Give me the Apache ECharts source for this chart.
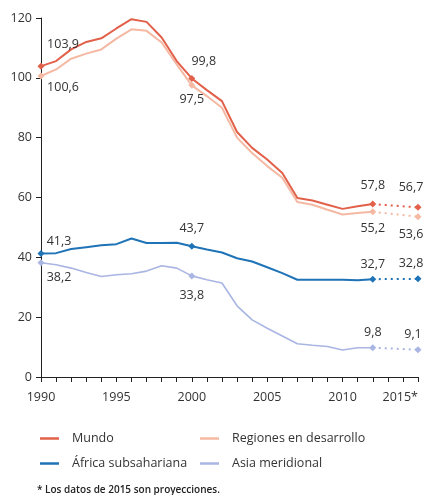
<!DOCTYPE html>
<html>
<head>
<meta charset="utf-8">
<script src="https://cdn.jsdelivr.net/npm/echarts@6/dist/echarts.min.js"></script>
<style>
  html, body { margin: 0; padding: 0; background: #fff; }
  #chart { width: 423px; height: 495px; }
</style>
</head>
<body>
<div id="chart"></div>
<script>
// años 1990-2012 (datos), 2015 proyección
var years = [1990,1991,1992,1993,1994,1995,1996,1997,1998,1999,2000,2001,2002,2003,2004,2005,2006,2007,2008,2009,2010,2011,2012];
var mundo = [103.9,105.6,109.5,112,113.2,116.5,119.6,118.7,113.5,105.6,99.8,95.9,92.2,81.9,76.6,72.7,68.2,59.8,59.0,57.6,56.2,57.1,57.8];
var regiones = [100.6,102.8,106.4,108.1,109.5,113.1,116.2,115.7,111.8,104.5,97.5,93.9,90,80,74.9,70.5,66.6,58.5,57.6,55.9,54.3,54.8,55.2];
var africa = [41.3,41.4,42.8,43.4,44,44.4,46.3,44.8,44.8,44.9,43.7,42.6,41.6,39.7,38.6,36.7,34.7,32.5,32.5,32.5,32.5,32.3,32.7];
var asia = [38.2,37.5,36.4,34.9,33.6,34.2,34.5,35.4,37.2,36.4,33.8,32.5,31.4,23.8,19.1,16.3,13.7,11.1,10.6,10.2,9.0,9.8,9.8];
// proyecciones 2015
var proyeccion = {mundo: 56.7, regiones: 53.6, africa: 32.8, asia: 9.1};
var etiquetados = [1990, 2000, 2012];

var names = ['Mundo', 'Regiones en desarrollo', 'África subsahariana', 'Asia meridional'];
var colors = ['#e2604a', '#f5b9a3', '#1f73b7', '#a9b5e2'];

// desplazamiento de etiquetas [1990, 2000, 2012, 2015]
var offsets = [
  [[22,-22],[12,-17],[0,-19],[-7,-20]],
  [[22,11],[0,14],[0,17],[-7,18]],
  [[18,-12],[0,-18],[0,-15],[-7,-15]],
  [[18,15],[0,20],[0,-15],[-5,-15]]
];

function fmt(v){ return String(v).replace('.', ','); }

function buildSerie(idx, vals, proj) {
  var c = colors[idx];
  var data = years.map(function (y, i) {
    var k = etiquetados.indexOf(y);
    var p = [y, vals[i]];
    if (k < 0) return {value: p, symbol: 'none'};
    return {
      value: p, symbol: 'diamond', symbolSize: 7,
      label: {show: true, offset: offsets[idx][k]}
    };
  });
  var main = {
    name: names[idx], type: 'line', data: data, z: 10 - idx,
    lineStyle: {color: c, width: idx == 3 ? 1.6 : 2},
    itemStyle: {color: c},
    label: {show: false, position: 'inside', color: '#333', fontSize: 12.5, fontFamily: 'Open Sans',
      formatter: function (p) { return fmt(p.value[1]); }},
    emphasis: {disabled: true}, animation: false
  };
  var dashed = {
    name: names[idx] + ' proy', type: 'line', z: 10 - idx,
    data: [
      {value: [2012, vals[vals.length - 1]], symbol: 'none'},
      {value: [2015, proj], symbol: 'diamond', symbolSize: 7,
        label: {show: true, offset: offsets[idx][3]}}
    ],
    lineStyle: {color: c, width: 2, type: [2, 4]},
    itemStyle: {color: c},
    label: {show: false, position: 'inside', color: '#333', fontSize: 12.5, fontFamily: 'Open Sans',
      formatter: function (p) { return fmt(p.value[1]); }},
    emphasis: {disabled: true}, animation: false
  };
  return [main, dashed];
}

var series = []
  .concat(buildSerie(0, mundo, proyeccion.mundo))
  .concat(buildSerie(1, regiones, proyeccion.regiones))
  .concat(buildSerie(2, africa, proyeccion.africa))
  .concat(buildSerie(3, asia, proyeccion.asia));

function leyenda(idx, left, top) {
  return {
    data: [names[idx]], left: left, top: top, icon: 'rect',
    itemWidth: 19, itemHeight: 2.5, padding: 0,
    textStyle: {color: '#333', fontSize: 12.5, fontFamily: 'Open Sans', padding: [0, 0, 0, 8]},
    selectedMode: false
  };
}

var chart = echarts.init(document.getElementById('chart'));
chart.setOption({
  backgroundColor: '#fff',
  animation: false,
  grid: {left: 41, right: 5, top: 18, bottom: 118, containLabel: false},
  xAxis: {
    type: 'value', min: 1990, max: 2015, interval: 5,
    axisLine: {lineStyle: {color: '#222', width: 1}},
    axisTick: {show: true, length: 5, lineStyle: {color: '#222'}},
    minorTick: {show: true, splitNumber: 5, length: 5, lineStyle: {color: '#222'}},
    splitLine: {show: false},
    axisLabel: {
      color: '#333', fontSize: 12.5, fontFamily: 'Open Sans', margin: 14,
      alignMaxLabel: 'right',
      formatter: function (v) { return v === 2015 ? '2015*' : String(v); }
    }
  },
  yAxis: {
    type: 'value', min: 0, max: 120, interval: 20,
    axisLine: {show: true, lineStyle: {color: '#222', width: 1}},
    axisTick: {show: true, length: 5, lineStyle: {color: '#222'}},
    splitLine: {show: false},
    axisLabel: {color: '#333', fontSize: 12.5, fontFamily: 'Open Sans', margin: 9}
  },
  legend: [
    leyenda(0, 40, 432),
    leyenda(1, 200, 432),
    leyenda(2, 40, 457),
    leyenda(3, 200, 457)
  ],
  graphic: [{
    type: 'text', left: 37, top: 485,
    style: {text: '* Los datos de 2015 son proyecciones.', fill: '#222',
      font: '600 10px "Open Sans"'}
  }],
  series: series
});
</script>
</body>
</html>
